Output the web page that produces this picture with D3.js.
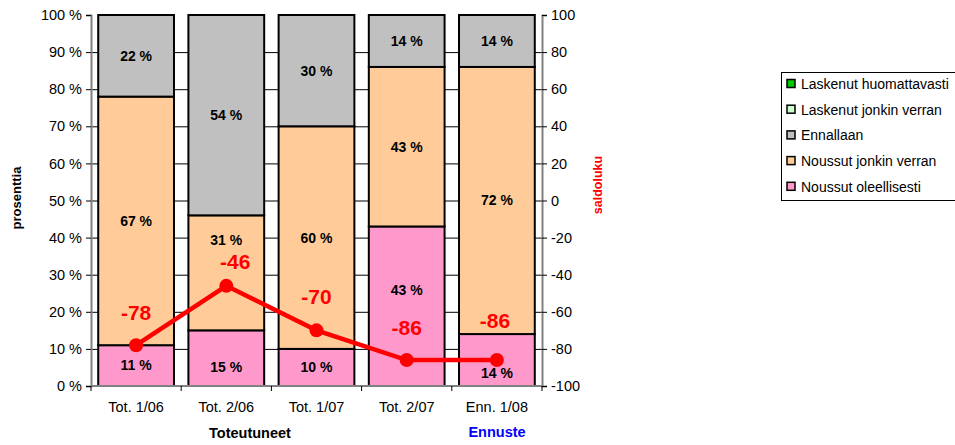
<!DOCTYPE html>
<html><head><meta charset="utf-8">
<script src="https://cdn.jsdelivr.net/npm/d3@7"></script>
<style>body{margin:0;background:#fff}svg{display:block;font-family:Arial,"Liberation Sans",sans-serif}</style>
</head><body><svg id="c" width="955" height="445"></svg>
<script>
const categories = ["Tot. 1/06","Tot. 2/06","Tot. 1/07","Tot. 2/07","Enn. 1/08"];
const seriesNames = ["Laskenut huomattavasti","Laskenut jonkin verran","Ennallaan","Noussut jonkin verran","Noussut oleellisesti"];
const laskenutHuom = [0,0,0,0,0];
const laskenutJonkin = [0,0,0,0,0];
const ennallaan = [22,54,30,14,14];
const noussutJonkin = [67,31,60,43,72];
const noussutOleell = [11,15,10,43,14];
const saldo = [-78,-46,-70,-86,-86];
const leftTicks = [0,10,20,30,40,50,60,70,80,90,100];
const rightTicks = [-100,-80,-60,-40,-20,0,20,40,60,80,100];
const colors = ["#00CC00","#CCFFCC","#C0C0C0","#FFCC99","#FF99CC"];
// manual label nudges (as in the original)
const pctLabelDy = {"4-1":9,"4-3":-16,"4-4":13,"3-1":-33};
const saldoLabelDx = [0,9,0,0,-2];
const saldoLabelDy = [-33,-24,-34,-32,-39];

const svg = d3.select("#c");
const FONT = "Arial,'Liberation Sans',sans-serif";
const L = 91, R = 542, T = 15, B = 386;
const x = d3.scaleBand().domain(categories).range([L,R]).paddingInner(0.16).paddingOuter(0.08);
const y = d3.scaleLinear().domain([0,100]).range([B,T]);
const y2 = d3.scaleLinear().domain([-100,100]).range([B,T]);

// gridlines
svg.append("g").selectAll("line").data(leftTicks.filter(t=>t>0&&t<100)).join("line")
  .attr("x1",L).attr("x2",R).attr("y1",d=>y(d)+0.5).attr("y2",d=>y(d)+0.5)
  .attr("stroke","#000").attr("stroke-width",1);

// stacked bars: bottom first = Noussut oleellisesti
const stackOrder = [4,3,2,1,0];
const vals = [laskenutHuom,laskenutJonkin,ennallaan,noussutJonkin,noussutOleell];
const rows = categories.map((c,i)=>{const o={cat:c};seriesNames.forEach((s,k)=>o[s]=vals[k][i]);return o;});
const stack = d3.stack().keys(stackOrder.map(k=>seriesNames[k]))(rows);
const gb = svg.append("g");
stack.forEach((layer,li)=>{
  const k = stackOrder[li];
  layer.forEach((d,i)=>{
    if (d[1]-d[0] <= 0) return;
    gb.append("rect").attr("x",x(categories[i])).attr("width",x.bandwidth())
      .attr("y",y(d[1])).attr("height",y(d[0])-y(d[1]))
      .attr("fill",colors[k]).attr("stroke","#000").attr("stroke-width",2);
  });
});
stack.forEach((layer,li)=>{
  const k = stackOrder[li];
  layer.forEach((d,i)=>{
    if (d[1]-d[0] <= 0) return;
    const dy = pctLabelDy[k+"-"+i] || 0;
    gb.append("text").attr("x",x(categories[i])+x.bandwidth()/2)
      .attr("y",(y(d[0])+y(d[1]))/2+dy).attr("dy","0.35em")
      .attr("text-anchor","middle").attr("font-size",14).attr("font-weight","bold")
      .text((d[1]-d[0])+" %");
  });
});

// axes
const axL = svg.append("g").attr("transform",`translate(${L},0)`)
  .call(d3.axisLeft(y).tickValues(leftTicks).tickSize(5).tickFormat(d=>d+" %"));
const axR = svg.append("g").attr("transform",`translate(${R},0)`)
  .call(d3.axisRight(y2).tickValues(rightTicks).tickSize(5).tickFormat(d=>d));
const axB = svg.append("g").attr("transform",`translate(0,${B})`)
  .call(d3.axisBottom(x).tickSize(0).tickPadding(16));
[axL,axR].forEach(a=>{
  a.select(".domain").attr("stroke","#808080").attr("stroke-width",2);
  a.selectAll(".tick line").attr("stroke","#000");
  a.selectAll("text").attr("font-size",14.5).attr("fill","#000").attr("font-family",FONT);
});
axL.selectAll("text").attr("x",-9);
axR.selectAll("text").attr("x",9);
axB.select(".domain").attr("stroke","#808080").attr("stroke-width",2).attr("d",`M${L},0H${R}`);
axB.selectAll("text").attr("font-size",14.5).attr("fill","#000").attr("font-family",FONT);
// x category separator ticks
svg.append("g").selectAll("line").data(d3.range(categories.length+1)).join("line")
  .attr("x1",i=>L+i*(R-L)/categories.length).attr("x2",i=>L+i*(R-L)/categories.length)
  .attr("y1",B).attr("y2",B+5).attr("stroke","#000");

// saldo line
const cx = i=>x(categories[i])+x.bandwidth()/2;
svg.append("path").datum(saldo)
  .attr("d",d3.line().x((d,i)=>cx(i)).y(d=>y2(d)))
  .attr("fill","none").attr("stroke","#FF0000").attr("stroke-width",4.5);
svg.append("g").selectAll("circle").data(saldo).join("circle")
  .attr("cx",(d,i)=>cx(i)).attr("cy",d=>y2(d)).attr("r",7).attr("fill","#FF0000");
svg.append("g").selectAll("text").data(saldo).join("text")
  .attr("x",(d,i)=>cx(i)+saldoLabelDx[i]).attr("y",(d,i)=>y2(d)+saldoLabelDy[i]).attr("dy","0.35em")
  .attr("text-anchor","middle").attr("font-size",21).attr("font-weight","bold").attr("fill","#FF0000")
  .text(d=>d);

// axis titles
svg.append("text").attr("transform","translate(21,198) rotate(-90)").attr("text-anchor","middle")
  .attr("font-size",13).attr("font-weight","bold").text("prosenttia");
svg.append("text").attr("transform","translate(602,185) rotate(-90)").attr("text-anchor","middle")
  .attr("font-size",12.5).attr("font-weight","bold").attr("fill","#FF0000").text("saldoluku");
svg.append("text").attr("x",250).attr("y",438).attr("text-anchor","middle")
  .attr("font-size",14.5).attr("font-weight","bold").text("Toteutuneet");
svg.append("text").attr("x",497).attr("y",437).attr("text-anchor","middle")
  .attr("font-size",14.5).attr("font-weight","bold").attr("fill","#0000FF").text("Ennuste");

// legend
const lg = svg.append("g");
lg.append("rect").attr("x",781.5).attr("y",72.5).attr("width",200).attr("height",128)
  .attr("fill","#fff").attr("stroke","#000").attr("stroke-width",1);
seriesNames.forEach((s,k)=>{
  const yy = 84 + k*25.7;
  lg.append("rect").attr("x",787).attr("y",yy-4.5).attr("width",8).attr("height",8)
    .attr("fill",colors[k]).attr("stroke","#000").attr("stroke-width",1.5);
  lg.append("text").attr("x",801).attr("y",yy).attr("dy","0.35em").attr("font-size",14).text(s);
});
</script></body></html>
